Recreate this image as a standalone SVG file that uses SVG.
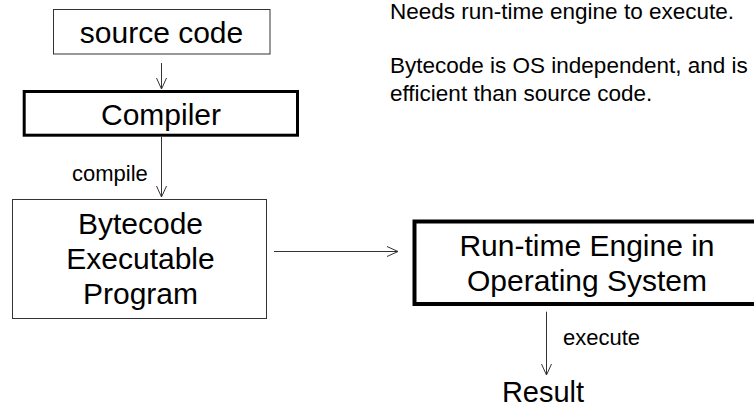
<svg xmlns="http://www.w3.org/2000/svg" width="754" height="408" viewBox="0 0 754 408">
  <style>
    .thin { fill: #ffffff; stroke: #333333; stroke-width: 1; }
    .thick { fill: #ffffff; stroke: #000000; stroke-width: 3; }
    .big { font-family: "Liberation Sans", Arial, sans-serif; font-size: 30px; fill: #000000; text-anchor: middle; }
    .small { font-family: "Liberation Sans", Arial, sans-serif; font-size: 22px; fill: #000000; }
    .note { font-family: "Liberation Sans", Arial, sans-serif; font-size: 22.5px; fill: #000000; }
    .conn { stroke: #333333; stroke-width: 1; fill: none; marker-end: url(#arrow); }
  </style>
  <defs>
    <marker id="arrow" markerUnits="userSpaceOnUse" markerWidth="12" markerHeight="12" refX="11" refY="5" orient="auto" overflow="visible">
      <path d="M0,0 L11,5 L0,10" fill="none" stroke="#333333" stroke-width="1"/>
    </marker>
  </defs>
  <rect width="754" height="408" fill="#ffffff"/>

  <g id="source-code">
    <rect class="thin" x="53.5" y="9.5" width="216.5" height="44.5"/>
    <text class="big" x="161.5" y="43">source code</text>
  </g>

  <g id="compiler">
    <rect class="thick" x="24.2" y="91.5" width="273.3" height="43.7"/>
    <text class="big" x="161" y="125">Compiler</text>
  </g>

  <g id="bytecode">
    <rect class="thin" x="12.5" y="199.5" width="254" height="119"/>
    <text class="big" x="140.5" y="234">Bytecode</text>
    <text class="big" x="140.5" y="269">Executable</text>
    <text class="big" x="140.5" y="304">Program</text>
  </g>

  <g id="runtime-engine">
    <rect x="414.5" y="221.5" width="345" height="82.5" fill="#ffffff" stroke="#000000" stroke-width="4"/>
    <text class="big" x="587" y="256">Run-time Engine in</text>
    <text class="big" x="587" y="291">Operating System</text>
  </g>

  <g id="result">
    <text class="big" x="543" y="401.5" style="font-size:29px">Result</text>
  </g>

  <g id="notes">
    <text class="note" x="390" y="18.8">Needs run-time engine to execute.</text>
    <text class="note" x="390" y="73">Bytecode is OS independent, and is</text>
    <text class="note" x="390" y="100.5">efficient than source code.</text>
  </g>

  <g id="connectors">
    <line class="conn" x1="161.5" y1="63" x2="161.5" y2="89"/>
    <line class="conn" x1="161.5" y1="137" x2="161.5" y2="197"/>
    <text class="small" x="72" y="181">compile</text>
    <line class="conn" x1="274" y1="251.5" x2="398" y2="251.5"/>
    <line class="conn" x1="546.5" y1="311.7" x2="546.5" y2="375"/>
    <text class="small" x="563" y="345">execute</text>
  </g>
</svg>
